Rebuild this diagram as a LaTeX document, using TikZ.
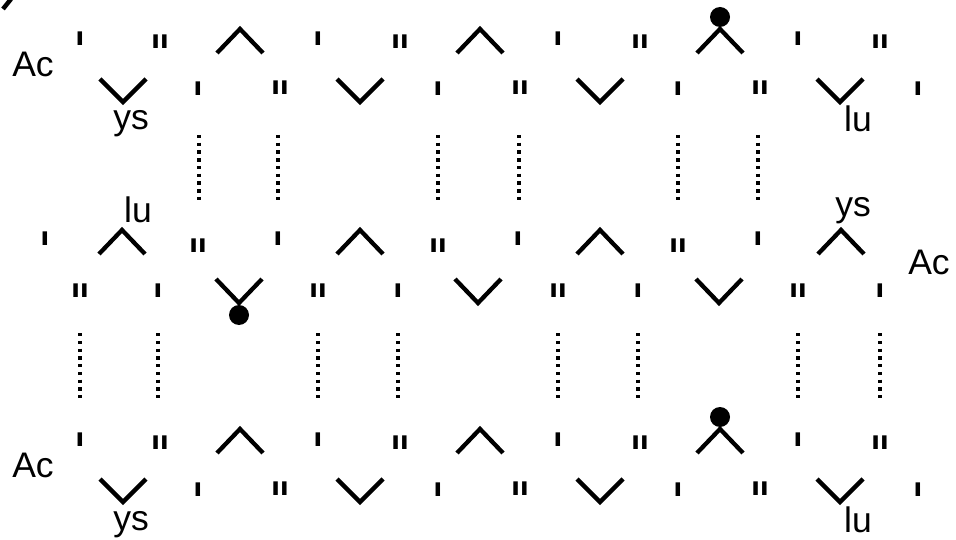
\documentclass[tikz,border=0pt]{standalone}
\usepackage{fontspec}
\setmainfont{Liberation Sans}
\newcommand{\rmI}{\scalebox{1}[0.64]{I}}
\newcommand{\rmII}{\scalebox{1}[0.64]{II}}
\begin{document}
\begin{tikzpicture}[x=1pt,y=-1pt,
  chev/.style={line width=4.3pt,line join=miter},
  bar/.style={font=\bfseries\fontsize{31}{31}\selectfont,inner sep=0pt,anchor=base},
  lbl/.style={font=\fontsize{35.5}{35.5}\selectfont,inner sep=0pt,anchor=base},
  dots/.style={line width=4.3pt,dash pattern=on 3.4pt off 4.35pt},
  blob/.style={fill=black}]
\useasboundingbox (0,0) rectangle (956,540);
% cut-off corner mark
\draw[line width=4.5pt] (11,-1) -- (3,9);
% ---- top and bottom blocks (identical, shifted by 400) ----
\foreach \dy/\b in {0/t,400/b}{
  \foreach \x [count=\i] in {80,318,558,798}{\node[bar] (\b r1i\i) at (\x,46+\dy) {\rmI};}
  \foreach \x [count=\i] in {160,400,640,880}{\node[bar] (\b r1ii\i) at (\x,49+\dy) {\rmII};}
  \foreach \x [count=\i] in {198,438,678,918}{\node[bar] (\b r2i\i) at (\x,96+\dy) {\rmI};}
  \foreach \x [count=\i] in {280,520,760}{\node[bar] (\b r2ii\i) at (\x,95+\dy) {\rmII};}
  \foreach \x in {240,480,720}{\draw[chev] (\x-23,53+\dy) -- (\x,29+\dy) -- (\x+23,53+\dy);}
  \foreach \x in {123,360,600,840}{\draw[chev] (\x-23,79+\dy) -- (\x,102+\dy) -- (\x+23,79+\dy);}
  \fill[blob] (720,17+\dy) circle (10);
  \node[lbl] (\b Ac) at (33,77+\dy) {Ac};
  \node[lbl] (\b ys) at (131,130+\dy) {ys};
  \node[lbl] (\b lu) at (858,132+\dy) {lu};
}
% dotted lines of the top block
\foreach \x in {199,278,438,519,678,758}{\draw[dots] (\x,135) -- (\x,201);}
% ---- middle block ----
\foreach \x [count=\i] in {45,278,518,758}{\node[bar] (mr3i\i) at (\x,246) {\rmI};}
\foreach \x [count=\i] in {198,438,678}{\node[bar] (mr3ii\i) at (\x,252) {\rmII};}
\foreach \x [count=\i] in {80,318,558,798}{\node[bar] (mr4ii\i) at (\x,297) {\rmII};}
\foreach \x [count=\i] in {158,398,638,880}{\node[bar] (mr4i\i) at (\x,297) {\rmI};}
\foreach \x in {122,360,600,841}{\draw[chev] (\x-23,254) -- (\x,230) -- (\x+23,254);}
\foreach \x in {239,478,719}{\draw[chev] (\x-23,279) -- (\x,303) -- (\x+23,279);}
\fill[blob] (239,315) circle (10);
\node[lbl] (mlu) at (138,223) {lu};
\node[lbl] (mys) at (853,217) {ys};
\node[lbl] (mAc) at (929,275) {Ac};
% dotted lines of the middle block
\foreach \x in {80,158,318,398,558,638,798,880}{\draw[dots] (\x,333) -- (\x,399);}
\end{tikzpicture}
\end{document}
